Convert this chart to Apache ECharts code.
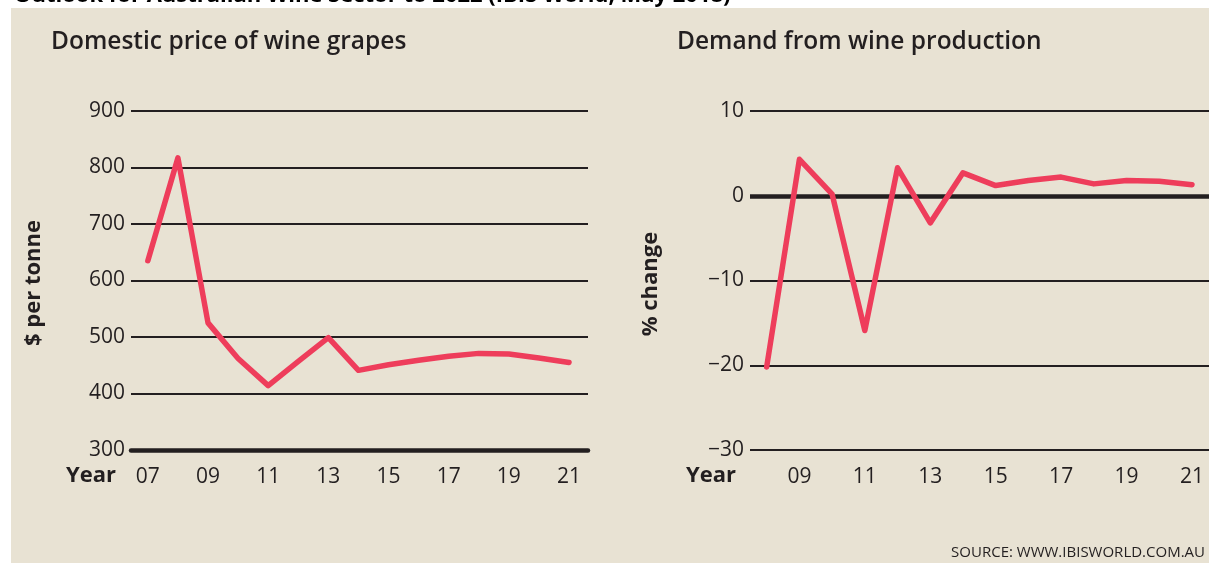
<!DOCTYPE html>
<html>
<head>
<meta charset="utf-8">
<script src="https://cdn.jsdelivr.net/npm/echarts@6/dist/echarts.min.js"></script>
<style>
html,body{margin:0;padding:0;background:#fff;}
#chart{width:1209px;height:563px;}
</style>
</head>
<body>
<div id="chart"></div>
<script>
// ---- data ----
const priceYears = [7, 8, 9, 10, 11, 12, 13, 14, 15, 16, 17, 18, 19, 20, 21];
const priceValues = [635, 817, 525, 462, 414, 457, 499, 441, 451, 459, 466, 471, 470, 463, 455];
const demandYears = [8, 9, 10, 11, 12, 13, 14, 15, 16, 17, 18, 19, 20, 21];
const demandValues = [-20.2, 4.3, 0.2, -15.9, 3.3, -3.2, 2.7, 1.2, 1.8, 2.2, 1.4, 1.8, 1.7, 1.3];
const priceTickYears = [7, 9, 11, 13, 15, 17, 19, 21];
const demandTickYears = [9, 11, 13, 15, 17, 19, 21];
const pageTitle = 'Outlook for Australian Wine Sector to 2022 (IBIS World, May 2018)';
const leftTitle = 'Domestic price of wine grapes';
const rightTitle = 'Demand from wine production';
const leftYName = '$ per tonne';
const rightYName = '% change';
const xName = 'Year';
const sourceText = 'SOURCE: WWW.IBISWORLD.COM.AU';

// ---- styles ----
const FONT = "'Open Sans', 'Noto Sans', sans-serif";
const INK = '#231f20';
const RED = '#ee3d5b';
const BG = '#e8e2d3';

const chart = echarts.init(document.getElementById('chart'));
const pad2 = v => String(Math.round(v)).padStart(2, '0');

function xAxisCfg(gridIndex, min, max, ticks, showLine) {
  return {
    type: 'value', gridIndex, min, max,
    axisLine: {show: showLine, onZero: false, lineStyle: {color: INK, width: 4.5}},
    axisTick: {show: false},
    splitLine: {show: false},
    axisLabel: {
      customValues: ticks, formatter: pad2, margin: 17,
      fontFamily: FONT, fontSize: 21, color: INK
    }
  };
}
function yAxisCfg(gridIndex, min, max, interval) {
  return {
    type: 'value', gridIndex, min, max, interval,
    axisLine: {show: false}, axisTick: {show: false},
    splitLine: {show: true, lineStyle: {color: INK, width: 2.2}},
    axisLabel: {
      margin: 6, fontFamily: FONT, fontSize: 21, color: INK,
      formatter: v => (v < 0 ? '\u2212' + Math.abs(v) : String(v))
    }
  };
}

const lineStyle = {color: RED, width: 5.5, cap: 'round', join: 'round'};

chart.setOption({
  backgroundColor: '#fff',
  animation: false,
  grid: [
    {left: 131, right: 1209 - 588, top: 111, bottom: 563 - 450},
    {left: 750, right: 0, top: 111, bottom: 563 - 450}
  ],
  xAxis: [
    xAxisCfg(0, 6.44, 21.63, priceTickYears, true),
    xAxisCfg(1, 7.49, 21.52, demandTickYears, false)
  ],
  yAxis: [
    yAxisCfg(0, 300, 900, 100),
    yAxisCfg(1, -30, 10, 10)
  ],
  series: [
    {
      type: 'line', xAxisIndex: 0, yAxisIndex: 0, showSymbol: false, symbol: 'none',
      lineStyle, z: 5,
      data: priceYears.map((y, i) => [y, priceValues[i]])
    },
    {
      type: 'line', xAxisIndex: 1, yAxisIndex: 1, showSymbol: false, symbol: 'none',
      lineStyle, z: 5,
      data: demandYears.map((y, i) => [y, demandValues[i]]),
      markLine: {
        silent: true, symbol: 'none', label: {show: false},
        lineStyle: {color: INK, width: 4.5, type: 'solid'},
        data: [{yAxis: 0}], z: 3
      }
    }
  ],
  graphic: [
    {type: 'text', z: -20, left: 14, top: -15,
      style: {text: pageTitle, fontFamily: FONT, fontWeight: 'bold', fontSize: 22, fill: '#000'}},
    {type: 'rect', z: -10, shape: {x: 11, y: 8, width: 1209 - 11, height: 563 - 8},
      style: {fill: BG}},
    {type: 'text', z: 10, x: 51, y: 42,
      style: {text: leftTitle, fontFamily: FONT, fontWeight: 600, fontSize: 24.5, fill: INK,
        textAlign: 'left', textVerticalAlign: 'middle'}},
    {type: 'text', z: 10, x: 677, y: 42,
      style: {text: rightTitle, fontFamily: FONT, fontWeight: 600, fontSize: 24.5, fill: INK,
        textAlign: 'left', textVerticalAlign: 'middle'}},
    {type: 'text', z: 10, x: 66, y: 476,
      style: {text: xName, fontFamily: FONT, fontWeight: 'bold', fontSize: 22, fill: INK,
        textAlign: 'left', textVerticalAlign: 'middle'}},
    {type: 'text', z: 10, x: 686, y: 476,
      style: {text: xName, fontFamily: FONT, fontWeight: 'bold', fontSize: 22, fill: INK,
        textAlign: 'left', textVerticalAlign: 'middle'}},
    {type: 'text', z: 10, x: 34, y: 283, rotation: Math.PI / 2,
      style: {text: leftYName, fontFamily: FONT, fontWeight: 'bold', fontSize: 22, fill: INK,
        textAlign: 'center', textVerticalAlign: 'middle'}},
    {type: 'text', z: 10, x: 651, y: 284, rotation: Math.PI / 2,
      style: {text: rightYName, fontFamily: FONT, fontWeight: 'bold', fontSize: 22, fill: INK,
        textAlign: 'center', textVerticalAlign: 'middle'}},
    {type: 'text', z: 10, x: 1205, y: 553,
      style: {text: sourceText, fontFamily: FONT, fontSize: 15, fill: INK,
        textAlign: 'right', textVerticalAlign: 'middle'}}
  ]
});
</script>
</body>
</html>
